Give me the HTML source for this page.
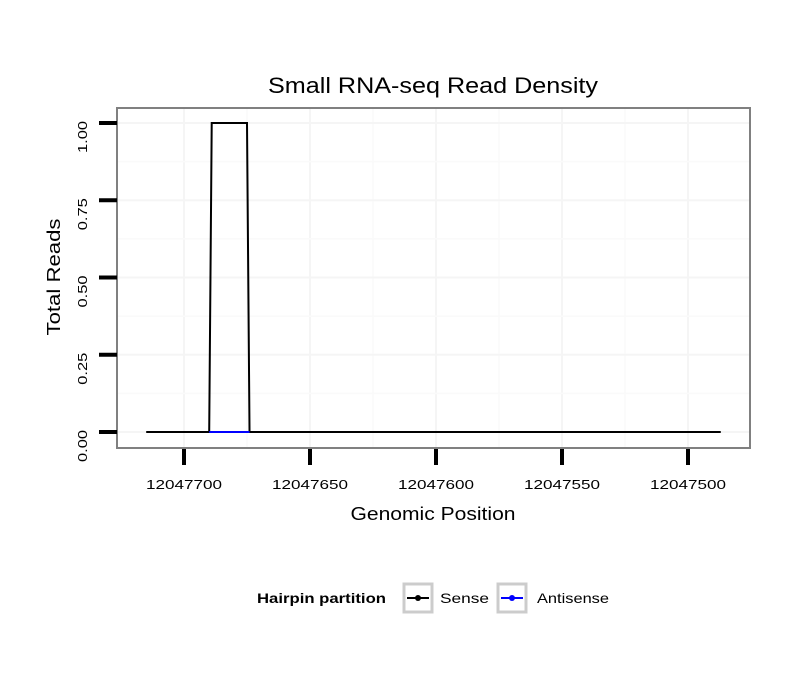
<!DOCTYPE html>
<html><head><meta charset="utf-8"><style>body{margin:0;background:#fff}svg{display:block;font-family:"Liberation Sans",sans-serif}</style></head>
<body>
<svg width="810" height="690">
<text x="433" y="93" text-anchor="middle" font-size="22" textLength="330" lengthAdjust="spacingAndGlyphs">Small RNA-seq Read Density</text>
<g id="grid"></g>
<rect x="117" y="108" width="633" height="340" fill="none" stroke="#808080" stroke-width="2"/>
<g id="axes"></g>
<g id="series"></g>
<text x="433" y="520" text-anchor="middle" font-size="18" textLength="165" lengthAdjust="spacingAndGlyphs">Genomic Position</text>
<text transform="translate(60,277) rotate(-90)" text-anchor="middle" font-size="18" textLength="117" lengthAdjust="spacingAndGlyphs">Total Reads</text>
<g>
<text x="257" y="603" font-size="14" font-weight="bold" textLength="129" lengthAdjust="spacingAndGlyphs">Hairpin partition</text>
<g>
<rect x="404" y="584" width="28" height="28" fill="#fff" stroke="#ccc" stroke-width="3"/>
<line x1="407" y1="598" x2="429" y2="598" stroke="#000" stroke-width="2"/><circle cx="418" cy="598" r="3" fill="#000"/>
<text x="440" y="603" font-size="14" textLength="49" lengthAdjust="spacingAndGlyphs">Sense</text></g>
<g>
<rect x="498" y="584" width="28" height="28" fill="#fff" stroke="#ccc" stroke-width="3"/>
<line x1="501" y1="598" x2="523" y2="598" stroke="#00f" stroke-width="2"/><circle cx="512" cy="598" r="3" fill="#00f"/>
<text x="537" y="603" font-size="14" textLength="72" lengthAdjust="spacingAndGlyphs">Antisense</text></g>
</g>
</svg>
<script>
const xTicks=[12047700,12047650,12047600,12047550,12047500];
const yTicks=[0,0.25,0.5,0.75,1];
const yTickLabels=["0.00","0.25","0.50","0.75","1.00"];
const senseX=[12047715,12047690,12047689,12047675,12047674,12047487];
const senseY=[0,0,1,1,0,0];
const antiX=[12047690,12047674];
const antiY=[0,0];
const NS="http://www.w3.org/2000/svg";
function sx(v){return 184+(12047700-v)*2.52;}
function sy(v){return 432-v*309;}
function mk(t,a,p){const e=document.createElementNS(NS,t);for(const k in a)e.setAttribute(k,a[k]);p.appendChild(e);return e;}
const grid=document.getElementById('grid'),axes=document.getElementById('axes'),ser=document.getElementById('series');
for(let i=0;i<xTicks.length;i++){
 const x=sx(xTicks[i]);
 const g=mk('line',{x1:x,x2:x,y1:109,y2:447,stroke:'#f5f5f5','stroke-width':2},grid);
 
 if(i<xTicks.length-1){const xm=sx((xTicks[i]+xTicks[i+1])/2);mk('line',{x1:xm,x2:xm,y1:109,y2:447,stroke:'#fafafa','stroke-width':1.5},grid);}
 const t=mk('line',{x1:x,x2:x,y1:449,y2:465,stroke:'#000','stroke-width':4},axes);
 
 const l=mk('text',{x:x,y:489,'text-anchor':'middle','font-size':13,textLength:76,lengthAdjust:'spacingAndGlyphs'},axes);l.textContent=xTicks[i];
 
}
for(let i=0;i<yTicks.length;i++){
 const y=sy(yTicks[i]);
 const g=mk('line',{x1:118,x2:749,y1:y,y2:y,stroke:'#f5f5f5','stroke-width':2},grid);
 
 if(i<yTicks.length-1){const ym=sy((yTicks[i]+yTicks[i+1])/2);mk('line',{x1:118,x2:749,y1:ym,y2:ym,stroke:'#fafafa','stroke-width':1.5},grid);}
 const t=mk('line',{x1:99,x2:117,y1:y,y2:y,stroke:'#000','stroke-width':4},axes);
 
 const l=mk('text',{transform:`translate(87,${y+14}) rotate(-90)`,'text-anchor':'middle','font-size':13,textLength:32,lengthAdjust:'spacingAndGlyphs'},axes);l.textContent=yTickLabels[i];
 
}
function path(xs,ys,c,n){
 const p=mk('polyline',{points:xs.map((x,i)=>sx(x)+','+sy(ys[i])).join(' '),fill:'none',stroke:c,'stroke-width':2},ser);
 
}
path(senseX,senseY,'#000','sense-line');
path(antiX,antiY,'#00f','antisense-line');
</script>
</body></html>
